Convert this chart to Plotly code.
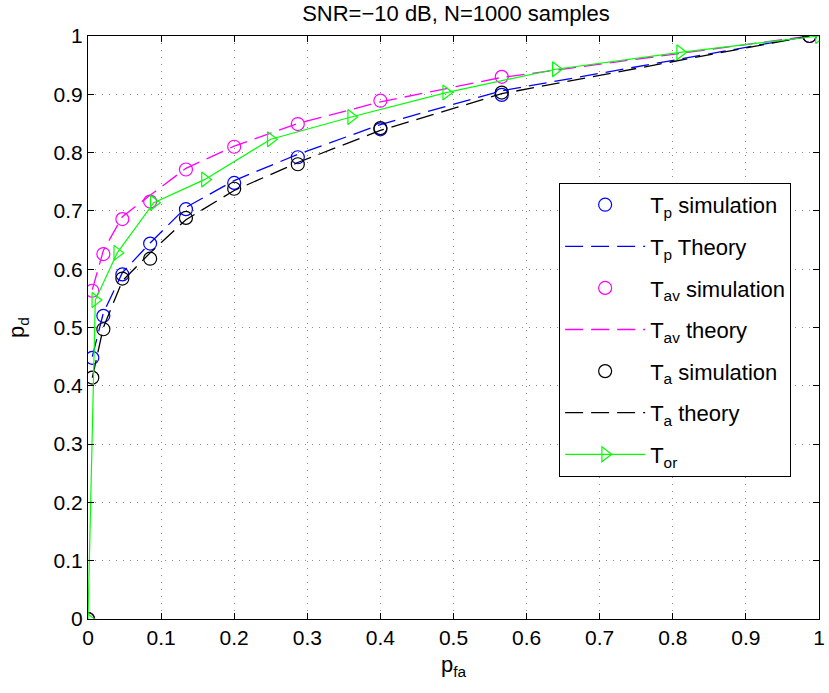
import plotly.graph_objects as go

# ---- data ----
pfa_sim = [0, 0.0059, 0.021, 0.047, 0.085, 0.134, 0.2, 0.287, 0.4, 0.566, 0.987]
tp_sim = [0, 0.448, 0.520, 0.591, 0.644, 0.703, 0.748, 0.792, 0.840, 0.899, 1.0]
tav_sim = [0, 0.563, 0.626, 0.686, 0.716, 0.771, 0.810, 0.849, 0.889, 0.930, 1.0]
ta_sim = [0, 0.414, 0.497, 0.584, 0.618, 0.688, 0.738, 0.780, 0.842, 0.903, 1.0]

pfa_th = [0.0059, 0.021, 0.047, 0.085, 0.134, 0.2, 0.287, 0.4, 0.566, 0.987]
tp_th = [0.450, 0.525, 0.594, 0.645, 0.706, 0.752, 0.797, 0.848, 0.906, 1.0]
tav_th = [0.565, 0.632, 0.690, 0.727, 0.773, 0.811, 0.850, 0.887, 0.929, 1.0]
ta_th = [0.414, 0.500, 0.580, 0.628, 0.685, 0.735, 0.783, 0.838, 0.901, 1.0]

pfa_or = [0, 0.01, 0.04, 0.09, 0.16, 0.25, 0.36, 0.49, 0.64, 0.81, 1.0]
tor = [0, 0.547, 0.628, 0.714, 0.754, 0.823, 0.861, 0.903, 0.943, 0.972, 1.0]

ticks = [0, 0.1, 0.2, 0.3, 0.4, 0.5, 0.6, 0.7, 0.8, 0.9, 1]
tick_text = ["0", "0.1", "0.2", "0.3", "0.4", "0.5", "0.6", "0.7", "0.8", "0.9", "1"]

BLUE, MAG, BLACK, GREEN = "#0000ff", "#ff00ff", "#000000", "#00ff00"
DASH = "18px,8px"
MS = 13

fig = go.Figure()

def circ(x, y, color, name, g):
    fig.add_trace(go.Scatter(x=x, y=y, mode="markers", name=name, legendgroup=g,
                             marker=dict(symbol="circle-open", size=MS, color=color,
                                         line=dict(width=1.2, color=color))))

def theo(x, y, color, name, g):
    fig.add_trace(go.Scatter(x=x, y=y, mode="lines", name=name, legendgroup=g,
                             line=dict(color=color, width=1.3, dash=DASH)))

circ(pfa_sim, tp_sim, BLUE, "T<sub>p</sub> simulation", "a")
theo(pfa_th, tp_th, BLUE, "T<sub>p</sub> Theory", "b")
circ(pfa_sim, tav_sim, MAG, "T<sub>av</sub> simulation", "c")
theo(pfa_th, tav_th, MAG, "T<sub>av</sub> theory", "d")
circ(pfa_sim, ta_sim, BLACK, "T<sub>a</sub> simulation", "e")
theo(pfa_th, ta_th, BLACK, "T<sub>a</sub> theory", "f")
fig.add_trace(go.Scatter(x=pfa_or, y=tor, mode="lines+markers", name="T<sub>or</sub>",
                         legendgroup="g",
                         line=dict(color=GREEN, width=1.2),
                         marker=dict(symbol="triangle-right-open", size=MS, color=GREEN,
                                     line=dict(width=1.2, color=GREEN))))

FONT = "Liberation Sans, Arial, Helvetica, sans-serif"
axis_common = dict(
    range=[0, 1], tickmode="array", tickvals=ticks, ticktext=tick_text,
    showline=True, linecolor="black", linewidth=1.2, mirror="allticks",
    ticks="inside", ticklen=6, tickcolor="black", tickwidth=1,
    showgrid=True, gridcolor="#8c8c8c", gridwidth=1, griddash="1px,6px",
    zeroline=False, tickfont=dict(size=21, color="black", family=FONT),
    ticklabeloverflow="allow",
)

fig.update_layout(
    width=829, height=693,
    margin=dict(l=88, r=4, t=36, b=74),
    paper_bgcolor="white", plot_bgcolor="white",
    font=dict(family=FONT, color="black"),
    title=dict(text="SNR=−10 dB, N=1000 samples", x=0.55, xanchor="center",
               y=0.981, yanchor="middle", font=dict(size=22, family=FONT)),
    xaxis=dict(axis_common, title=dict(text="p<sub>fa</sub>", font=dict(size=22), standoff=8)),
    yaxis=dict(axis_common, title=dict(text="p<sub>d</sub>", font=dict(size=22), standoff=22)),
    showlegend=True,
    legend=dict(x=0.6445, y=0.748, xanchor="left", yanchor="top",
                bgcolor="white", bordercolor="black", borderwidth=1,
                font=dict(size=22, family=FONT), itemwidth=80,
                tracegroupgap=10, traceorder="grouped"),
)

fig.write_html("out.html")
